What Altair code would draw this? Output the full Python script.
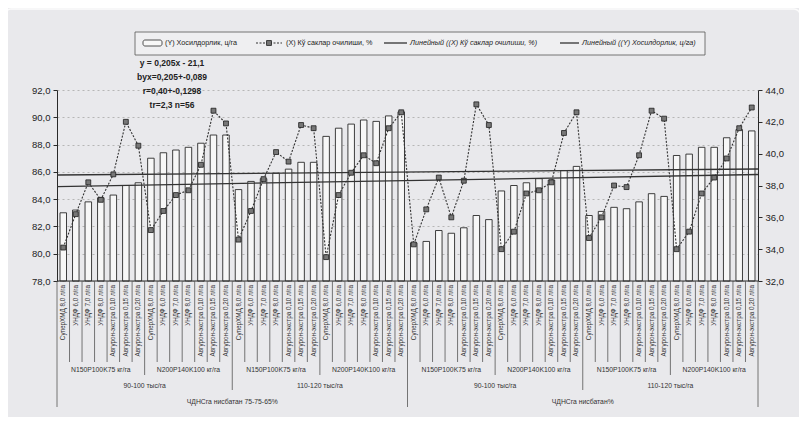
import altair as alt
import pandas as pd

# ---------------- data ----------------
categories = ["СуперХМД 8,0 л/га", "УНДФ 6,0 л/га", "УНДФ 7,0 л/га", "УНДФ 8,0 л/га",
              "Авгурон-экстра 0,10 л/га", "Авгурон-экстра 0,15 л/га", "Авгурон-экстра 0,20 л/га"]
fert_groups = ["N150P100K75 кг/га", "N200P140K100 кг/га"] * 4
density_groups = ["90-100 тыс/га", "110-120 тыс/га"] * 2
npk_groups = ["ЧДНСга нисбатан 75-75-65%", "ЧДНСга нисбатан%"]

# (Y) yield, c/ha  (left axis)
yield_y = [83.0, 83.2, 83.8, 84.1, 84.3, 85.0, 85.2,
           87.0, 87.4, 87.6, 87.8, 88.1, 88.7, 88.7,
           84.7, 85.3, 85.5, 85.9, 86.2, 86.7, 86.7,
           88.6, 89.2, 89.5, 89.8, 89.7, 90.1, 90.4,
           80.8, 80.9, 81.7, 81.5, 81.9, 82.8, 82.5,
           84.6, 85.0, 85.2, 85.5, 85.4, 86.1, 86.4,
           82.8, 83.1, 83.4, 83.3, 83.8, 84.4, 84.2,
           87.2, 87.3, 87.8, 87.8, 88.5, 89.1, 89.0]

# (X) boll opening, %  (right axis)
opening_x = [34.1, 36.2, 38.2, 37.1, 38.7, 42.0, 40.5,
             35.2, 36.4, 37.4, 37.7, 39.3, 42.7, 41.9,
             34.6, 36.4, 38.4, 40.1, 39.5, 41.8, 41.6,
             33.5, 37.4, 38.8, 39.9, 39.4, 41.6, 42.6,
             34.3, 36.5, 38.5, 36.0, 38.3, 43.1, 41.8,
             34.0, 35.1, 37.5, 37.7, 38.2, 41.3, 42.6,
             34.7, 36.0, 38.0, 37.9, 39.9, 42.7, 42.2,
             34.0, 35.1, 37.5, 38.5, 39.7, 41.6, 42.9]

# linear trend end values as drawn in the reference
trend_y_ends = [85.77, 86.21]
trend_x_ends = [37.93, 38.69]

annotation = ["y = 0,205x - 21,1", "byx=0,205+-0,089", "r=0,40+-0,1298", "tr=2,3 n=56"]

legend_labels = ["(Y) Хосилдорлик, ц/га", "(X) Кў саклар очилиши, %",
                 "Линейный ((X) Кў саклар очилиши, %)", "Линейный ((Y) Хосилдорлик, ц/га)"]

# ---------------- tables ----------------
n = len(yield_y)
df = pd.DataFrame({"i": list(range(n)), "cat": categories * (n // len(categories)),
                   "Y": yield_y, "X": opening_x})
bounds = pd.DataFrame({"b": list(range(n + 1))})
g2 = pd.DataFrame({"name": fert_groups, "k": list(range(len(fert_groups)))})
g3 = pd.DataFrame({"name": density_groups, "k": list(range(len(density_groups)))})
g4 = pd.DataFrame({"name": npk_groups, "k": list(range(len(npk_groups)))})
trend_df = pd.DataFrame({"i": [0, n], "ty": trend_y_ends, "tx": trend_x_ends})
ann_df = pd.DataFrame({"t": annotation, "k": list(range(len(annotation)))})
one = pd.DataFrame({"a": [0]})

W, H = 701, 191
FONT = "Liberation Sans"
DARK = "#2a2a2a"

xscale = alt.Scale(domain=[0, n], nice=False, zero=False)
yl_scale = alt.Scale(domain=[78, 92], nice=False, zero=False)
yr_scale = alt.Scale(domain=[32, 44], nice=False, zero=False)
lblexpr = "replace(format(datum.value, '.1f'), '.', ',')"

left_axis = alt.Axis(orient="left", values=list(range(78, 93, 2)), labelExpr=lblexpr,
                     title=None, tickSize=4, labelPadding=3, labelFontSize=9.5,
                     labelFont=FONT, labelColor="#222", domainColor=DARK, tickColor=DARK,
                     grid=True, gridColor="#a8a8a8", gridDash=[2, 3], gridWidth=0.8)
right_axis = alt.Axis(orient="right", values=list(range(32, 45, 2)), labelExpr=lblexpr,
                      title=None, tickSize=4, labelPadding=3, labelFontSize=9.5,
                      labelFont=FONT, labelColor="#222", domainColor=DARK, tickColor=DARK,
                      grid=False)

# frame (outline only)
frame = alt.Chart(one).mark_rect(fillOpacity=0, stroke="#fbfbfb", strokeWidth=1.5,
                                 cornerRadius=6).encode(
    x=alt.value(-52), x2=alt.value(743), y=alt.value(-81), y2=alt.value(331))

# ---------------- left: bars + Y trend ----------------
base = alt.Chart(df).transform_calculate(
    x0="datum.i + 0.24", x1="datum.i + 0.76", xc="datum.i + 0.5", base="78")

bars = base.mark_bar(fill="#f7f7f7", stroke=DARK, strokeWidth=0.9).encode(
    x=alt.X("x0:Q", scale=xscale, axis=None),
    x2="x1:Q",
    y=alt.Y("Y:Q", scale=yl_scale, axis=left_axis),
    y2="base:Q",
)

trend_y = alt.Chart(trend_df).mark_line(color="#333", strokeWidth=1.3).encode(
    x=alt.X("i:Q", scale=xscale, axis=None),
    y=alt.Y("ty:Q", scale=yl_scale, axis=left_axis))

left = alt.layer(bars, trend_y)

# ---------------- right: X line + X trend ----------------
line = base.mark_line(color="#333", strokeWidth=1.1, strokeDash=[2, 1.5]).encode(
    x=alt.X("xc:Q", scale=xscale, axis=None),
    y=alt.Y("X:Q", scale=yr_scale, axis=right_axis))
pts = base.mark_square(size=24, fill="#777777", stroke="#1e1e1e", strokeWidth=0.8,
                       opacity=1).encode(
    x=alt.X("xc:Q", scale=xscale, axis=None),
    y=alt.Y("X:Q", scale=yr_scale, axis=right_axis))
trend_x = alt.Chart(trend_df).mark_line(color="#333", strokeWidth=1.3).encode(
    x=alt.X("i:Q", scale=xscale, axis=None),
    y=alt.Y("tx:Q", scale=yr_scale, axis=right_axis))

right = alt.layer(line, pts, trend_x)

# ---------------- multi-level category axis ----------------
baseline_rule = alt.Chart(one).mark_rule(color=DARK, strokeWidth=1).encode(
    x=alt.value(0), x2=alt.value(W), y=alt.value(H))

seps = alt.Chart(bounds).transform_calculate(
    top=str(H),
    bot=f"{H} + ((datum.b % 28 == 0) ? 126 : (datum.b % 14 == 0) ? 109 : (datum.b % 7 == 0) ? 94 : 81)"
).mark_rule(color="#555", strokeWidth=0.8).encode(
    x=alt.X("b:Q", scale=xscale, axis=None),
    y=alt.Y("top:Q", scale=None, axis=None), y2="bot:Q")

cat_text = base.mark_text(angle=270, align="right", baseline="middle", fontSize=6.3,
                          font=FONT, color="#333").encode(
    x=alt.X("xc:Q", scale=xscale, axis=None), y=alt.value(H + 4), text="cat:N")

def group_text(d, span, ypix):
    return alt.Chart(d).transform_calculate(c=f"datum.k * {span} + {span / 2}").mark_text(
        align="center", baseline="middle", fontSize=6.8, font=FONT, color="#333").encode(
        x=alt.X("c:Q", scale=xscale, axis=None), y=alt.value(ypix), text="name:N")

lvl2 = group_text(g2, 7, H + 89)
lvl3 = group_text(g3, 14, H + 105)
lvl4 = group_text(g4, 28, H + 121)

# ---------------- annotation ----------------
ann = alt.Chart(ann_df).transform_calculate(yy="-27 + datum.k * 14").mark_text(
    align="center", baseline="middle", fontSize=8.5, fontWeight="bold", font=FONT,
    color="#222").encode(x=alt.value(115), y=alt.Y("yy:Q", scale=None, axis=None), text="t:N")

# ---------------- legend (manual) ----------------
LY = -47
leg_box = alt.Chart(one).mark_rect(fill="#efeff1", stroke="#555", strokeWidth=0.8).encode(
    x=alt.value(78), x2=alt.value(648), y=alt.value(-58), y2=alt.value(-35))
leg_bar = alt.Chart(one).mark_rect(fill="#f7f7f7", stroke=DARK, strokeWidth=0.8,
                                   cornerRadius=2).encode(
    x=alt.value(86), x2=alt.value(105), y=alt.value(LY - 3), y2=alt.value(LY + 3))
leg_dash = alt.Chart(one).mark_rule(color="#333", strokeWidth=1.1, strokeDash=[2, 1.5]).encode(
    x=alt.value(199), x2=alt.value(225), y=alt.value(LY))
leg_sq = alt.Chart(one).mark_square(size=24, fill="#777777", stroke="#1e1e1e",
                                    strokeWidth=0.8, opacity=1).encode(
    x=alt.value(212), y=alt.value(LY))
leg_l3 = alt.Chart(one).mark_rule(color="#333", strokeWidth=1.3).encode(
    x=alt.value(327), x2=alt.value(350), y=alt.value(LY))
leg_l4 = alt.Chart(one).mark_rule(color="#333", strokeWidth=1.3).encode(
    x=alt.value(503), x2=alt.value(522), y=alt.value(LY))

def leg_text(label, xpix, italic=False):
    return alt.Chart(one).mark_text(align="left", baseline="middle", fontSize=7.2, font=FONT,
                                    fontStyle="italic" if italic else "normal",
                                    color="#222", text=label).encode(
        x=alt.value(xpix), y=alt.value(LY))

legend = alt.layer(leg_box, leg_bar, leg_dash, leg_sq, leg_l3, leg_l4,
                   leg_text(legend_labels[0], 108), leg_text(legend_labels[1], 229),
                   leg_text(legend_labels[2], 353, True), leg_text(legend_labels[3], 525, True))

chart = alt.layer(frame, left, right, baseline_rule, seps, cat_text, lvl2, lvl3, lvl4, ann,
                  legend).resolve_scale(y="independent").properties(
    width=W, height=H,
    autosize=alt.AutoSizeParams(type="none"),
    padding={"left": 49, "top": 82, "right": 41, "bottom": 136},
).configure(background="#e9e9ec").configure_view(stroke=None)

chart.save("out.html", embed_options={"renderer": "svg", "actions": False})
